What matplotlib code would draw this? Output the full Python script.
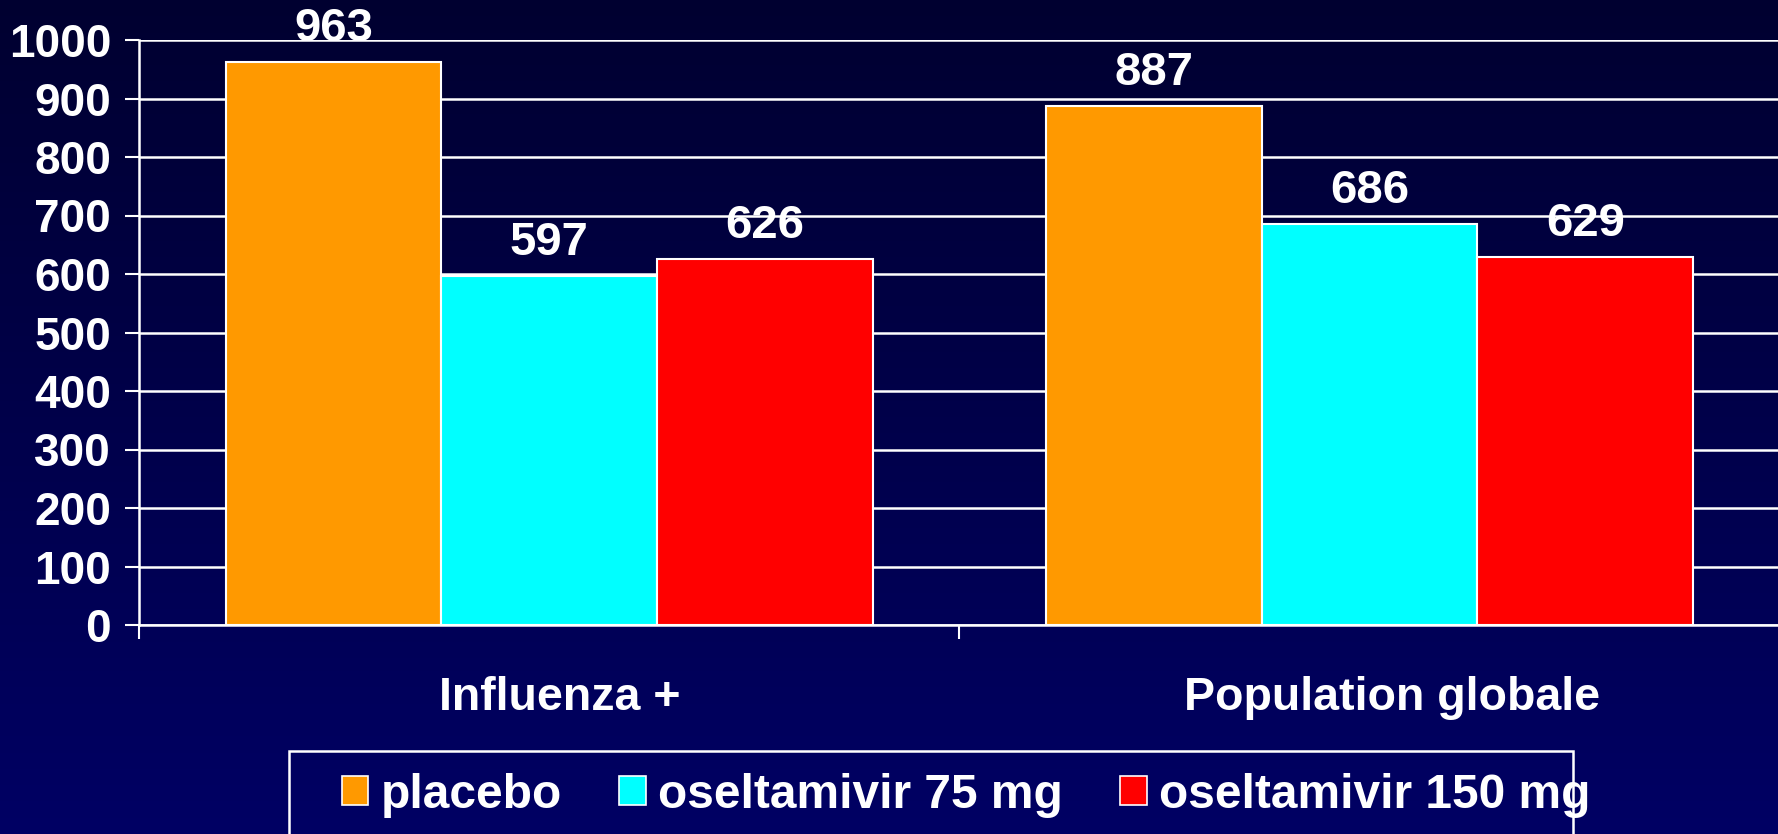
import numpy as np
import matplotlib
matplotlib.use("Agg")
import matplotlib.pyplot as plt
from matplotlib.patches import Rectangle, Patch

plt.rcParams['font.family'] = ['Liberation Sans', 'DejaVu Sans']
plt.rcParams['font.weight'] = 'bold'

categories = ["Influenza +", "Population globale"]
series_names = ["placebo", "oseltamivir 75 mg", "oseltamivir 150 mg"]
placebo = [963, 887]
osel75 = [597, 686]
osel150 = [626, 629]
colors = ["#FF9900", "#00FFFF", "#FF0000"]
yticks = [0, 100, 200, 300, 400, 500, 600, 700, 800, 900, 1000]

W, H = 1778, 834
fig = plt.figure(figsize=(W / 100, H / 100), dpi=100)

# gradient background
bg = fig.add_axes([0, 0, 1, 1], zorder=-10)
grad = np.linspace(0, 1, 256).reshape(-1, 1)
top = np.array([0, 0, 48]) / 255
bot = np.array([0, 0, 100]) / 255
img = top + (bot - top) * grad[:, :, None]
bg.imshow(img, aspect='auto', extent=[0, 1, 0, 1], origin='upper')
bg.axis('off')

ax = fig.add_axes([139 / W, 209 / H, 1 - 139 / W + 0.001, (625 - 40) / H])
ax.set_facecolor('none')

x = np.arange(len(categories))
bw = 0.263
series = [placebo, osel75, osel150]
for i, (vals, col) in enumerate(zip(series, colors)):
    pos = x + (i - 1) * bw
    ax.bar(pos, vals, width=bw, color=col, edgecolor='white', linewidth=1.5, zorder=3)
    for p, v in zip(pos, vals):
        ax.annotate(str(v), (p, v), xytext=(0, 15), textcoords='offset points',
                    ha='center', va='baseline', color='white', fontsize=34,
                    fontweight='bold', zorder=5)

ax.set_xlim(-0.5, 1.5)
ax.set_ylim(0, 1000)
ax.set_yticks(yticks)
ax.set_yticklabels([str(t) for t in yticks])
ax.yaxis.grid(True, color='white', linewidth=1.8, zorder=0)
ax.set_axisbelow(True)

ax.set_xticks(x + np.array([0.013, 0.028]))
ax.set_xticklabels(categories)
ax.set_xticks([-0.5, 0.5, 1.5], minor=True)
ax.tick_params(axis='x', which='major', length=0, pad=37, labelsize=33.5, labelcolor='white')
ax.tick_params(axis='x', which='minor', length=10, width=1.5, color='white', direction='out')
ax.tick_params(axis='y', which='major', length=10, width=1.5, color='white', pad=10,
               labelsize=33, labelcolor='white')
for lab in ax.get_xticklabels() + ax.get_yticklabels():
    lab.set_fontweight('bold')

for s in ['top', 'right']:
    ax.spines[s].set_visible(False)
for s in ['left', 'bottom']:
    ax.spines[s].set_color('white')
    ax.spines[s].set_linewidth(1.8)

# legend box
fig.patches.append(Rectangle((289 / W, -0.05), (1573 - 289) / W, 0.05 + (834 - 751) / H,
                             transform=fig.transFigure, fill=False, edgecolor='white',
                             linewidth=1.8))
handles = [Patch(facecolor=c, edgecolor='white', linewidth=1.2) for c in colors]
leg = fig.legend(handles, series_names, loc='center', bbox_to_anchor=(966 / W, 39 / H),
                 ncol=3, frameon=False, fontsize=34.5, handlelength=0.56, handleheight=0.54,
                 handletextpad=0.25, columnspacing=1.2, borderpad=0)
for t in leg.get_texts():
    t.set_color('white')
    t.set_fontweight('bold')

fig.savefig("out.png", dpi=100, facecolor=fig.get_facecolor())
